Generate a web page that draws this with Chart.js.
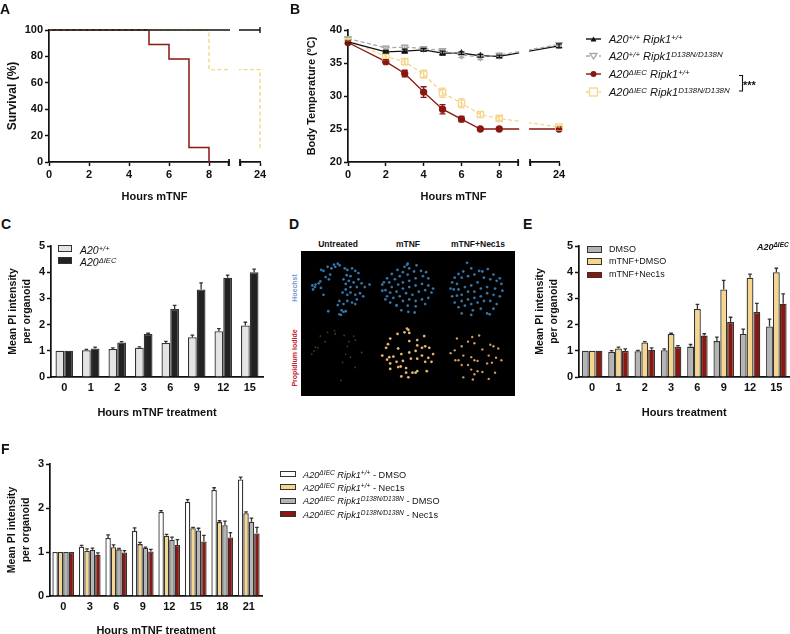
<!DOCTYPE html>
<html>
<head>
<meta charset="utf-8">
<title>Figure</title>
<script src="https://cdn.jsdelivr.net/npm/chart.js@4"></script>
<style>
    html, body { margin: 0; padding: 0; background: #fff; }
    body { width: 790px; height: 634px; position: relative; overflow: hidden; font-family: "Liberation Sans", Arial, sans-serif; color: #111; }
    canvas { position: absolute; }
    .t { position: absolute; white-space: nowrap; line-height: 1; }
    .b { font-weight: bold; }
    .i { font-style: italic; }
    sup { font-size: 72%; line-height: 0; vertical-align: baseline; position: relative; top: -0.42em; }
    .letter { font-size: 14px; font-weight: bold; }
    .sw { position: absolute; box-sizing: border-box; border: 1.3px solid #333; }
</style>
</head>
<body>

<script>
    const BLACK = '#111111';
    const RED = '#8a1710';
    const YELLOW = '#f6d58c';
    const GREY = '#a9a9a9';
    const LIGHT = '#e4e4e4';
    const DARK = '#222222';
    const BAR_GREY = '#b4b4b4';

    // Panel A, survival
    const survivalBlackHours = [0, 24];
    const survivalBlack = [100, 100];
    const survivalRedHours = [0, 5, 6, 7, 8];
    const survivalRed = [100, 89, 78, 11, 0];
    const survivalYellowHours = [0, 8, 24];
    const survivalYellow = [100, 70, 10];

    // Panel B, body temperature
    const tempHours = [0, 2, 3, 4, 5, 6, 7, 8, 24];
    const tempBlack = [38.2, 36.7, 36.8, 37.0, 36.5, 36.5, 36.1, 36.0, 37.6];
    const tempBlackErr = [0.2, 0.2, 0.3, 0.2, 0.3, 0.2, 0.2, 0.2, 0.3];
    const tempGrey = [38.7, 37.3, 37.4, 37.2, 36.9, 36.2, 35.9, 36.2, 37.8];
    const tempGreyErr = [0.2, 0.2, 0.3, 0.2, 0.2, 0.4, 0.4, 0.3, 0.3];
    const tempRed = [38.1, 35.2, 33.4, 30.6, 28.0, 26.5, 25.0, 25.0, 25.0];
    const tempRedErr = [0.2, 0.3, 0.5, 0.8, 0.7, 0.4, 0.1, 0.1, 0.1];
    const tempYellow = [38.5, 36.0, 35.2, 33.3, 30.5, 28.9, 27.2, 26.6, 25.3];
    const tempYellowErr = [0.2, 0.3, 0.4, 0.6, 0.7, 0.7, 0.4, 0.3, 0.2];

    // Panel C
    const hoursC = ['0', '1', '2', '3', '6', '9', '12', '15'];
    const cWild = [1, 1.02, 1.07, 1.12, 1.3, 1.52, 1.75, 1.97];
    const cWildErr = [0, 0.03, 0.04, 0.03, 0.06, 0.08, 0.1, 0.12];
    const cKnock = [1, 1.09, 1.32, 1.64, 2.6, 3.34, 3.79, 4.0];
    const cKnockErr = [0, 0.05, 0.03, 0.03, 0.13, 0.25, 0.1, 0.12];

    // Panel E
    const hoursE = ['0', '1', '2', '3', '6', '9', '12', '15'];
    const eDmso = [1, 0.96, 0.98, 1.02, 1.16, 1.37, 1.64, 1.93];
    const eDmsoErr = [0, 0.05, 0.04, 0.05, 0.08, 0.15, 0.19, 0.28];
    const eTnf = [1, 1.09, 1.32, 1.64, 2.6, 3.34, 3.79, 4.0];
    const eTnfErr = [0, 0.05, 0.03, 0.03, 0.17, 0.35, 0.14, 0.15];
    const eNec = [1, 0.99, 1.04, 1.15, 1.58, 2.1, 2.48, 2.8];
    const eNecErr = [0, 0.08, 0.07, 0.05, 0.07, 0.18, 0.33, 0.37];

    // Panel F
    const hoursF = ['0', '3', '6', '9', '12', '15', '18', '21'];
    const fWhite = [1, 1.12, 1.32, 1.48, 1.91, 2.14, 2.41, 2.65];
    const fWhiteErr = [0, 0.03, 0.07, 0.07, 0.03, 0.05, 0.05, 0.05];
    const fYellow = [1, 1.03, 1.11, 1.18, 1.37, 1.54, 1.68, 1.88];
    const fYellowErr = [0, 0.04, 0.05, 0.04, 0.03, 0.02, 0.03, 0.03];
    const fGrey = [1, 1.05, 1.06, 1.09, 1.28, 1.49, 1.61, 1.69];
    const fGreyErr = [0, 0.04, 0.02, 0.02, 0.06, 0.05, 0.09, 0.08];
    const fRed = [1, 0.94, 0.99, 1.01, 1.16, 1.24, 1.33, 1.42];
    const fRedErr = [0, 0.04, 0.04, 0.05, 0.12, 0.14, 0.11, 0.14];

    // Panel D, nuclei
    const hoechstUntreated = [[20,95],[30,92],[40,88],[45,82],[28,100],[22,108],[47,103],[48,45],[55,48],[68,35],[80,40],[88,28],[100,25],[106,30],[92,35],[76,60],[62,68],[72,75],[55,125],[122,40],[130,45],[145,40],[155,48],[165,55],[140,65],[128,62],[118,75],[135,80],[125,90],[150,85],[165,75],[175,88],[185,100],[160,100],[140,100],[125,108],[115,118],[130,125],[140,118],[155,125],[170,120],[180,130],[160,140],[145,150],[155,155],[130,145],[105,145],[100,158],[118,155],[112,175],[105,188],[118,180],[125,178],[110,190],[70,178],[200,92]];
    const hoechstTnf = [[318,28],[310,35],[325,40],[320,25],[348,30],[288,45],[305,52],[270,58],[255,72],[245,85],[240,92],[262,85],[280,75],[295,65],[320,60],[340,50],[362,48],[378,52],[368,65],[385,72],[345,72],[325,80],[305,85],[290,92],[270,100],[250,110],[240,112],[265,118],[285,115],[305,105],[325,100],[345,95],[365,90],[385,95],[400,105],[395,118],[375,110],[355,115],[335,125],[315,120],[295,130],[275,135],[255,130],[265,150],[285,158],[305,145],[325,140],[345,145],[365,140],[385,135],[375,155],[345,162],[320,160],[300,175],[322,180],[342,182],[285,160],[250,140]];
    const hoechstNec = [[507,22],[520,40],[495,50],[480,58],[468,70],[460,85],[455,105],[475,90],[490,70],[510,65],[530,60],[545,48],[555,50],[572,42],[590,60],[610,72],[615,90],[600,80],[580,75],[560,70],[540,85],[520,95],[500,100],[480,108],[460,130],[475,128],[490,125],[510,115],[530,115],[550,105],[570,100],[595,105],[618,112],[610,130],[590,125],[570,120],[550,130],[530,135],[510,140],[490,145],[468,150],[480,165],[500,160],[520,155],[540,150],[560,145],[580,145],[600,155],[590,170],[570,185],[550,170],[525,175],[520,190],[490,185],[578,188],[465,108]];
    const piUntreated = [[90,25],[92,35],[45,42],[68,30],[120,40],[150,42],[155,55],[135,60],[60,60],[30,78],[38,80],[18,100],[25,90],[125,100],[140,110],[115,127],[155,143],[110,185],[130,75],[175,95]];
    const piTnf = [[318,18],[310,30],[325,32],[322,22],[265,50],[288,35],[258,68],[252,80],[325,58],[350,55],[372,42],[350,72],[375,75],[365,80],[388,80],[290,82],[240,105],[262,110],[275,108],[300,100],[325,95],[345,90],[365,105],[385,112],[400,100],[395,125],[375,125],[350,115],[330,115],[305,122],[285,125],[265,130],[255,118],[265,148],[290,142],[298,140],[315,145],[335,160],[350,155],[345,160],[315,160],[300,172],[322,175],[380,155]];
    const piNec = [[523,45],[510,60],[530,65],[545,40],[475,50],[490,75],[468,88],[455,97],[495,105],[480,120],[530,120],[540,122],[520,110],[575,105],[598,112],[590,75],[605,82],[580,70],[615,120],[570,130],[585,128],[555,85],[520,150],[540,155],[555,158],[575,180],[530,165],[525,182],[495,175],[595,160],[490,135],[510,135],[470,120]];

    Chart.defaults.animation = false;
    Chart.defaults.font.family = '"Liberation Sans", Arial, sans-serif';
    Chart.defaults.color = BLACK;

    // error bars, drawn from the "errors" array of each dataset
    const errorBars = {
        id: 'errorBars',
        afterDatasetsDraw(chart) {
            const ctx = chart.ctx;
            const yScale = chart.scales.y;
            chart.data.datasets.forEach((ds, i) => {
                if (!ds.errors) return;
                const isLine = ds.type === 'line' || chart.config.type === 'line';
                chart.getDatasetMeta(i).data.forEach((el, j) => {
                    const err = ds.errors[j];
                    if (!err) return;
                    const value = isLine ? ds.data[j].y : ds.data[j];
                    const hi = yScale.getPixelForValue(value + err);
                    const lo = isLine ? yScale.getPixelForValue(value - err) : el.y;
                    const cap = isLine ? 3 : 1.8;
                    ctx.save();
                    ctx.strokeStyle = isLine ? ds.borderColor : '#333';
                    ctx.lineWidth = 1.3;
                    ctx.beginPath();
                    ctx.moveTo(el.x, lo);
                    ctx.lineTo(el.x, hi);
                    ctx.moveTo(el.x - cap, hi);
                    ctx.lineTo(el.x + cap, hi);
                    if (isLine) {
                        ctx.moveTo(el.x - cap, lo);
                        ctx.lineTo(el.x + cap, lo);
                    }
                    ctx.stroke();
                    ctx.restore();
                });
            });
        }
    };

    // white gap over the broken part of the x axis, with its two end caps
    const axisBreak = {
        id: 'axisBreak',
        afterDatasetsDraw(chart, args, opts) {
            if (opts.from === undefined) return;
            const ctx = chart.ctx;
            const xScale = chart.scales.x;
            const a = xScale.getPixelForValue(opts.from);
            const b = xScale.getPixelForValue(opts.to);
            const bottom = chart.chartArea.bottom;
            ctx.save();
            ctx.fillStyle = '#fff';
            ctx.fillRect(a + 1, chart.chartArea.top - 6, b - a - 2, bottom - chart.chartArea.top + 6 + 6);
            ctx.strokeStyle = BLACK;
            ctx.lineWidth = 1.7;
            ctx.beginPath();
            ctx.moveTo(a, bottom - 3);
            ctx.lineTo(a, bottom + 4);
            ctx.moveTo(b, bottom - 3);
            ctx.lineTo(b, bottom + 4);
            ctx.stroke();
            ctx.restore();
        }
    };

    Chart.register(errorBars, axisBreak);

    function addCanvas(x, y, w, h) {
        const c = document.createElement('canvas');
        c.width = w;
        c.height = h;
        c.style.left = x + 'px';
        c.style.top = y + 'px';
        c.style.width = w + 'px';
        c.style.height = h + 'px';
        document.body.appendChild(c);
        return c;
    }

    function addText(x, y, html, cls, style) {
        const d = document.createElement('div');
        d.className = 't ' + (cls || '');
        d.style.left = x + 'px';
        d.style.top = y + 'px';
        if (style) d.style.cssText += style;
        d.innerHTML = html;
        document.body.appendChild(d);
        return d;
    }

    function addSwatch(x, y, w, h, color) {
        const d = document.createElement('div');
        d.className = 'sw';
        d.style.cssText += `left:${x}px;top:${y}px;width:${w}px;height:${h}px;background:${color}`;
        document.body.appendChild(d);
    }

    // y axis options, the width is fixed so the plot lands where it should
    function yAxis(min, max, step, title, width, titlePad, titleSize) {
        return {
            min: min, max: max,
            afterFit: s => { s.width = width; },
            border: { color: BLACK, width: 1.7 },
            grid: { drawOnChartArea: false, color: BLACK, tickLength: 4, tickWidth: 1.5 },
            ticks: { stepSize: step, padding: 2, font: { size: 11, weight: 'bold' }, color: BLACK },
            title: { display: true, text: title, font: { size: titleSize, weight: 'bold', lineHeight: 1.3 }, color: BLACK, padding: { top: titlePad, bottom: 0 } }
        };
    }

    function xTitle(text, bottomPad) {
        return { display: true, text: text, font: { size: 11, weight: 'bold' }, color: BLACK, padding: { top: 0, bottom: bottomPad } };
    }

    // the stretch after 9 h is squeezed: 24 h sits at a fixed place past the break
    function brokenLine(id, box, plot, yOpts, datasets, brk, axisEnd) {
        const toAxis = h => (h > 9 ? axisEnd : h);
        const tickValues = [0, 2, 4, 6, 8, 9, brk, axisEnd];
        const tickNames = { 0: '0', 2: '2', 4: '4', 6: '6', 8: '8' };
        tickNames[axisEnd] = '24';
        const canvas = addCanvas(box.x, box.y, box.w, box.h);
        return new Chart(canvas, {
            type: 'line',
            data: {
                datasets: datasets.map(d => Object.assign({}, d, {
                    data: d.hours.map((h, i) => ({ x: toAxis(h), y: d.values[i] })),
                    clip: false
                }))
            },
            options: {
                responsive: false,
                layout: { padding: { top: plot.top - box.y, right: box.x + box.w - plot.right } },
                plugins: {
                    legend: { display: false },
                    tooltip: { enabled: false },
                    axisBreak: { from: 9, to: brk }
                },
                scales: {
                    x: {
                        type: 'linear', min: 0, max: axisEnd,
                        afterBuildTicks: s => { s.ticks = tickValues.map(v => ({ value: v })); },
                        afterFit: s => { s.height = box.y + box.h - plot.bottom; },
                        border: { color: BLACK, width: 1.7 },
                        grid: { drawOnChartArea: false, color: BLACK, tickLength: 4, tickWidth: 1.5 },
                        ticks: {
                            autoSkip: false, maxRotation: 0, padding: 2,
                            font: { size: 11, weight: 'bold' }, color: BLACK,
                            callback: v => tickNames[v] || ''
                        },
                        title: xTitle('Hours mTNF', box.y + box.h - plot.title - 7)
                    },
                    y: yOpts
                }
            }
        });
    }

    function barChart(box, plot, labels, yOpts, xLabel, catPct, series) {
        const canvas = addCanvas(box.x, box.y, box.w, box.h);
        return new Chart(canvas, {
            type: 'bar',
            data: {
                labels: labels,
                datasets: series.map(s => ({
                    data: s.values,
                    errors: s.errors,
                    backgroundColor: s.color,
                    borderColor: '#333333',
                    borderWidth: 1.3,
                    categoryPercentage: catPct,
                    barPercentage: 1
                }))
            },
            options: {
                responsive: false,
                layout: { padding: { top: plot.top - box.y, right: box.x + box.w - plot.right } },
                plugins: { legend: { display: false }, tooltip: { enabled: false } },
                scales: {
                    x: {
                        afterFit: s => { s.height = box.y + box.h - plot.bottom; },
                        border: { color: BLACK, width: 1.7 },
                        grid: { drawOnChartArea: false, drawTicks: false },
                        ticks: { autoSkip: false, maxRotation: 0, padding: 4.5, font: { size: 11, weight: 'bold' }, color: BLACK },
                        title: xTitle(xLabel, box.y + box.h - plot.title - 7)
                    },
                    y: yOpts
                }
            }
        });
    }

    // A
    brokenLine('a', { x: 0, y: 15, w: 285, h: 195 }, { top: 30, bottom: 162, right: 260, title: 196.5 },
        yAxis(0, 100, 20, 'Survival (%)', 49, 5, 12),
        [
            { hours: survivalBlackHours, values: survivalBlack, borderColor: BLACK, borderWidth: 1.6, pointStyle: 'line', rotation: 90, pointRadius: [0, 3], pointBorderColor: BLACK, pointBorderWidth: 1.4 },
            { hours: survivalYellowHours, values: survivalYellow, borderColor: YELLOW, borderWidth: 1.4, borderDash: [4, 2.5], pointRadius: 0, stepped: true },
            { hours: survivalRedHours, values: survivalRed, borderColor: RED, borderWidth: 1.5, pointRadius: 0, stepped: true }
        ], 9.55, 10.55);

    // B
    const markerB = { borderWidth: 1.3, tension: 0 };
    brokenLine('b', { x: 290, y: 15, w: 290, h: 195 }, { top: 30, bottom: 162, right: 559, title: 196.5 },
        yAxis(20, 40, 5, 'Body Temperature (ºC)', 58, 15, 11),
        [
            Object.assign({ hours: tempHours, values: tempGrey, errors: tempGreyErr, borderColor: GREY, borderDash: [4, 2.5], pointStyle: 'triangle', rotation: 180, pointRadius: 3.5, pointBackgroundColor: '#fff', pointBorderColor: GREY }, markerB),
            Object.assign({ hours: tempHours, values: tempBlack, errors: tempBlackErr, borderColor: BLACK, pointStyle: 'triangle', pointRadius: 2.8, pointBackgroundColor: BLACK, pointBorderColor: BLACK }, markerB),
            Object.assign({ hours: tempHours, values: tempYellow, errors: tempYellowErr, borderColor: YELLOW, borderDash: [4, 2.5], pointStyle: 'rect', pointRadius: 4.5, pointBackgroundColor: 'rgba(255,255,255,0)', pointBorderColor: YELLOW }, markerB),
            Object.assign({ hours: tempHours, values: tempRed, errors: tempRedErr, borderColor: RED, pointStyle: 'circle', pointRadius: 3, pointBackgroundColor: RED, pointBorderColor: RED }, markerB)
        ], 9.63, 11.16);

    // C
    barChart({ x: 0, y: 232, w: 275, h: 190 }, { top: 246, bottom: 377, right: 263, title: 412.5 }, hoursC,
        yAxis(0, 5, 1, ['Mean PI intensity', 'per organoid'], 51, 6, 10.6), 'Hours mTNF treatment', 0.66,
        [
            { values: cWild, errors: cWildErr, color: LIGHT },
            { values: cKnock, errors: cKnockErr, color: DARK }
        ]);

    // E
    barChart({ x: 532, y: 232, w: 258, h: 190 }, { top: 246, bottom: 377, right: 789.5, title: 412.5 }, hoursE,
        yAxis(0, 5, 1, ['Mean PI intensity', 'per organoid'], 47, 1, 10.6), 'Hours treatment', 0.78,
        [
            { values: eDmso, errors: eDmsoErr, color: BAR_GREY },
            { values: eTnf, errors: eTnfErr, color: YELLOW },
            { values: eNec, errors: eNecErr, color: RED }
        ]);

    // F
    barChart({ x: 0, y: 450, w: 275, h: 184 }, { top: 464, bottom: 596, right: 262, title: 630.5 }, hoursF,
        yAxis(0, 3, 1, ['Mean PI intensity', 'per organoid'], 50, 5, 10.6), 'Hours mTNF treatment', 0.82,
        [
            { values: fWhite, errors: fWhiteErr, color: '#ffffff' },
            { values: fYellow, errors: fYellowErr, color: YELLOW },
            { values: fGrey, errors: fGreyErr, color: BAR_GREY },
            { values: fRed, errors: fRedErr, color: RED }
        ]);

    // D, the second row of the micrograph starts 216 units down
    const toPoints = (list, dy) => list.map(p => ({ x: p[0], y: p[1] + dy }));
    const dCanvas = addCanvas(301, 251, 214, 145);
    dCanvas.style.background = '#000';
    new Chart(dCanvas, {
        type: 'scatter',
        data: {
            datasets: [
                { data: toPoints(hoechstUntreated, 0), backgroundColor: '#3878ae', pointRadius: 1.4 },
                { data: toPoints(hoechstTnf, 0), backgroundColor: '#3878ae', pointRadius: 1.4 },
                { data: toPoints(hoechstNec, 0), backgroundColor: '#3878ae', pointRadius: 1.4 },
                { data: toPoints(piUntreated, 216), backgroundColor: '#5e4422', pointRadius: 0.9 },
                { data: toPoints(piTnf, 216), backgroundColor: '#f0bc78', pointRadius: 1.4 },
                { data: toPoints(piNec, 216), backgroundColor: '#dca262', pointRadius: 1.2 }
            ]
        },
        options: {
            responsive: false,
            layout: { padding: 0 },
            plugins: { legend: { display: false }, tooltip: { enabled: false } },
            scales: {
                x: { display: false, min: 0, max: 642 },
                y: { display: false, min: 0, max: 435, reverse: true }
            }
        }
    });

    addText(338, 240, 'Untreated', 'b', 'font-size:8.5px;transform:translateX(-50%)');
    addText(408, 240, 'mTNF', 'b', 'font-size:8.5px;transform:translateX(-50%)');
    addText(478, 240, 'mTNF+Nec1s', 'b', 'font-size:8.5px;transform:translateX(-50%)');
    addText(294, 288, 'Hoechst', 'b', 'font-size:7px;color:#6f9bd2;transform:translate(-50%,-50%) rotate(-90deg)');
    addText(294, 358, 'Propidium Iodide', 'b', 'font-size:7px;color:#c1222c;transform:translate(-50%,-50%) rotate(-90deg)');

    // panel letters
    addText(0, 2, 'A', 'letter');
    addText(290, 2, 'B', 'letter');
    addText(1, 217, 'C', 'letter');
    addText(289, 217, 'D', 'letter');
    addText(523, 217, 'E', 'letter');
    addText(1, 442, 'F', 'letter');

    // legend B: line handle plus marker
    const legendB = [
        { y: 39, label: 'A20<sup>+/+</sup> Ripk1<sup>+/+</sup>', color: BLACK, dash: '', marker: '<polygon points="590.5,41.5 596.5,41.5 593.5,36.5" fill="' + BLACK + '"/>' },
        { y: 56, label: 'A20<sup>+/+</sup> Ripk1<sup>D138N/D138N</sup>', color: GREY, dash: '4 2.5', marker: '<polygon points="590,53.5 597,53.5 593.5,59" fill="#fff" stroke="' + GREY + '" stroke-width="1.3"/>' },
        { y: 74, label: 'A20<sup>ΔIEC</sup> Ripk1<sup>+/+</sup>', color: RED, dash: '', marker: '<circle cx="593.5" cy="74" r="3" fill="' + RED + '"/>' },
        { y: 92, label: 'A20<sup>ΔIEC</sup> Ripk1<sup>D138N/D138N</sup>', color: YELLOW, dash: '4 2.5', marker: '<rect x="589.5" y="88" width="8" height="8" fill="#fff" stroke="' + YELLOW + '" stroke-width="1.3"/>' }
    ];
    let svg = '<svg width="790" height="634" style="position:absolute;left:0;top:0;pointer-events:none">';
    legendB.forEach(r => {
        svg += `<line x1="586" x2="601" y1="${r.y}" y2="${r.y}" stroke="${r.color}" stroke-width="1.4" stroke-dasharray="${r.dash}"/>` + r.marker;
    });
    svg += `<path d="M739 75.5 H742.5 V91 H739" fill="none" stroke="${BLACK}" stroke-width="1.1"/>`;
    svg += '</svg>';
    document.body.insertAdjacentHTML('beforeend', svg);
    legendB.forEach(r => addText(609, r.y - 5, r.label, 'i', 'font-size:11px'));
    addText(743, 80, '***', 'b', 'font-size:11px');

    // legend C
    addSwatch(58, 245, 14, 6.5, LIGHT);
    addSwatch(58, 257, 14, 6.5, DARK);
    addText(80, 245, 'A20<sup>+/+</sup>', 'i', 'font-size:10.5px');
    addText(80, 257, 'A20<sup>ΔIEC</sup>', 'i', 'font-size:10.5px');

    // legend E
    addSwatch(587, 246, 15, 6.5, BAR_GREY);
    addSwatch(587, 258, 15, 6.5, YELLOW);
    addSwatch(587, 271.5, 15, 6.5, RED);
    addText(609, 244.5, 'DMSO', '', 'font-size:9px');
    addText(609, 257, 'mTNF+DMSO', '', 'font-size:9px');
    addText(609, 270, 'mTNF+Nec1s', '', 'font-size:9px');
    addText(757, 243, 'A20<sup>ΔIEC</sup>', 'b i', 'font-size:9px');

    // legend F
    const legendF = [
        { y: 471, color: '#ffffff', label: 'A20<sup>ΔIEC</sup> Ripk1<sup>+/+</sup> <span style="font-style:normal">- DMSO</span>' },
        { y: 484, color: YELLOW, label: 'A20<sup>ΔIEC</sup> Ripk1<sup>+/+</sup> <span style="font-style:normal">- Nec1s</span>' },
        { y: 497.5, color: BAR_GREY, label: 'A20<sup>ΔIEC</sup> Ripk1<sup>D138N/D138N</sup> <span style="font-style:normal">- DMSO</span>' },
        { y: 511, color: RED, label: 'A20<sup>ΔIEC</sup> Ripk1<sup>D138N/D138N</sup> <span style="font-style:normal">- Nec1s</span>' }
    ];
    legendF.forEach(r => {
        addSwatch(280, r.y, 16, 6, r.color);
        addText(303, r.y - 0.5, r.label, 'i', 'font-size:9.2px');
    });
</script>
</body>
</html>
